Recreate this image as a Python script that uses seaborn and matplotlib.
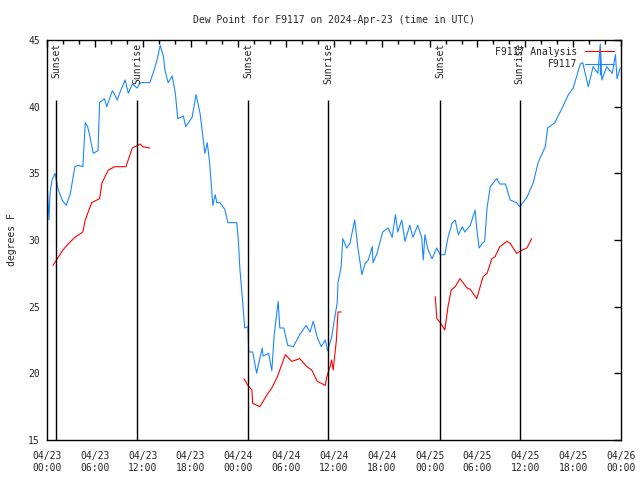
import numpy as np
import pandas as pd
import seaborn as sns
import matplotlib
matplotlib.use("Agg")
import matplotlib.pyplot as plt
from matplotlib.lines import Line2D
from matplotlib.ticker import MultipleLocator, FixedLocator

# ==========================================
# Data (hours since 2024-04-23 00:00 UTC)
# ==========================================
obs_hours = [0.0, 0.25, 0.38, 0.63, 1.0, 1.4, 1.9, 2.4, 2.9, 3.5, 3.9, 4.5, 4.8, 5.1, 5.4, 5.8,
             6.4, 6.6, 7.2, 7.5, 8.2, 8.5, 8.8, 9.3, 9.8, 10.2, 10.7, 11.3, 11.7, 12.9, 13.3,
             13.8, 14.2, 14.6, 14.8, 15.2, 15.7, 16.1, 16.4, 17.1, 17.4, 18.2, 18.7, 19.2,
             19.8, 20.1, 20.4, 20.8, 21.1, 21.3, 21.7, 22.3, 22.7, 23.8, 24.0, 24.2, 24.5,
             24.8, 25.2, 25.3, 25.8, 26.3, 26.5, 27.0, 27.1, 27.8, 28.2, 28.5, 29.0, 29.2,
             29.7, 30.2, 30.9, 31.7, 32.5, 33.0, 33.4, 33.9, 34.4, 34.9, 35.2, 35.7, 36.4,
             36.5, 36.9, 37.1, 37.6, 38.0, 38.6, 39.0, 39.5, 39.9, 40.3, 40.8, 40.9, 41.4,
             41.8, 42.1, 42.8, 43.3, 43.7, 44.0, 44.5, 44.9, 45.5, 45.9, 46.5, 47.0, 47.2,
             47.4, 47.8, 48.3, 48.9, 49.3, 49.9, 50.3, 50.8, 51.2, 51.6, 52.1, 52.4, 53.1,
             53.4, 53.7, 53.9, 54.2, 54.6, 54.9, 55.2, 55.6, 56.4, 56.8, 57.5, 58.1, 58.9,
             59.3, 60.2, 61.0, 61.6, 62.5, 62.8, 63.7, 64.7, 65.4, 66.0, 66.9, 67.2, 67.9,
             68.5, 69.1, 69.4, 69.6, 70.2, 70.9, 71.3, 71.5, 71.9]
obs_dewpt = [34.4, 31.5, 33.5, 34.5, 35.0, 33.8, 33.0, 32.6, 33.4, 35.5, 35.6, 35.5, 38.8, 38.5,
             37.7, 36.5, 36.7, 40.3, 40.6, 40.0, 41.2, 40.9, 40.5, 41.3, 42.0, 41.0, 41.7,
             41.4, 41.8, 41.8, 42.5, 43.5, 44.6, 43.8, 42.7, 41.8, 42.3, 41.0, 39.1, 39.3,
             38.5, 39.2, 40.9, 39.5, 36.5, 37.3, 35.8, 32.6, 33.4, 32.8, 32.8, 32.3, 31.3,
             31.3, 30.0, 27.8, 25.7, 23.4, 23.5, 21.6, 21.6, 20.0, 20.6, 21.9, 21.3, 21.5,
             20.2, 22.9, 25.4, 23.4, 23.4, 22.1, 22.0, 22.9, 23.6, 23.1, 23.9, 22.7, 22.0,
             22.5, 21.7, 22.7, 25.3, 26.8, 28.0, 30.1, 29.4, 29.75, 31.5, 29.4, 27.4, 28.25,
             28.5, 29.5, 28.3, 29.0, 29.9, 30.6, 30.9, 30.2, 31.9, 30.6, 31.5, 29.9, 31.1,
             30.2, 31.1, 30.2, 28.5, 30.4, 29.25, 28.6, 29.4, 28.9, 28.9, 30.2, 31.25, 31.5,
             30.4, 31.0, 30.6, 31.1, 31.7, 32.25, 30.9, 29.4, 29.75, 29.9, 32.4, 34.0, 34.6,
             34.2, 34.2, 33.0, 32.8, 32.5, 33.2, 34.3, 35.8, 37.0, 38.4, 38.8, 40.0, 40.9,
             41.4, 43.2, 43.3, 41.5, 43.0, 42.5, 44.7, 42.0, 43.0, 42.5, 43.9, 42.1, 42.9]

ana_hours = [0.75, 2.0, 2.5, 3.5, 4.5, 4.8, 5.6, 6.6, 6.9, 7.7, 8.5, 9.9, 10.7, 11.7, 12.0, 12.9,
             24.7, 25.2, 25.7, 25.8, 26.7, 27.6, 28.2, 28.9, 29.2, 29.9, 30.7, 31.7, 32.6,
             33.2, 33.9, 34.9, 35.1, 35.5, 35.7, 35.9, 36.3, 36.5, 36.9,
             48.7, 48.9, 49.4, 49.9, 50.3, 50.7, 51.2, 51.8, 52.7, 53.1, 53.9, 54.7, 55.2,
             55.8, 56.2, 56.8, 57.7, 58.1, 58.9, 59.6, 60.2, 60.8]
ana_dewpt = [28.1, 29.25, 29.6, 30.2, 30.6, 31.5, 32.8, 33.1, 34.3, 35.25, 35.5, 35.5, 36.9,
             37.2, 37.0, 36.9,
             19.6, 19.1, 18.75, 17.75, 17.5, 18.4, 18.9, 19.75, 20.25, 21.4, 20.9, 21.1,
             20.5, 20.25, 19.4, 19.1, 19.75, 20.5, 21.0, 20.25, 22.5, 24.6, 24.6,
             25.75, 24.1, 23.75, 23.25, 25.0, 26.25, 26.5, 27.1, 26.4, 26.3, 25.6, 27.25,
             27.5, 28.6, 28.75, 29.5, 29.9, 29.75, 29.0, 29.25, 29.4, 30.1]
ana_segment = [1] * 16 + [2] * 23 + [3] * 22

sun_hours = [1.13, 11.3, 25.2, 35.3, 49.3, 59.3]
sun_labels = ["Sunset", "Sunrise", "Sunset", "Sunrise", "Sunset", "Sunrise"]

tick_hours = [0, 6, 12, 18, 24, 30, 36, 42, 48, 54, 60, 66, 72]
tick_labels = ["04/23\n00:00", "04/23\n06:00", "04/23\n12:00", "04/23\n18:00",
               "04/24\n00:00", "04/24\n06:00", "04/24\n12:00", "04/24\n18:00",
               "04/25\n00:00", "04/25\n06:00", "04/25\n12:00", "04/25\n18:00",
               "04/26\n00:00"]

obs_df = pd.DataFrame({"hour": obs_hours, "dewpt": obs_dewpt})
ana_df = pd.DataFrame({"hour": ana_hours, "dewpt": ana_dewpt, "seg": ana_segment})

# ==========================================
# Plot
# ==========================================
sns.set_style("white")
plt.rcParams["font.family"] = ["DejaVu Sans Mono"]
plt.rcParams["font.size"] = 7

blue = "#1a88ff"
red = "#ff0000"

fig = plt.figure(figsize=(6.4, 4.8), dpi=100)
ax = fig.add_axes([47 / 640, 40 / 480, 574 / 640, 400 / 480])

sns.lineplot(data=ana_df, x="hour", y="dewpt", units="seg", estimator=None,
             color=red, lw=0.8, ax=ax)
sns.lineplot(data=obs_df, x="hour", y="dewpt", color=blue, lw=0.8, ax=ax)

# sunrise / sunset markers
ax.vlines(sun_hours, 15, 40.5, color="black", lw=1)
for h, lab in zip(sun_hours, sun_labels):
    ax.text(h, 44.8, lab, rotation=90, ha="center", va="top", fontsize=7)

ax.set_xlim(0, 72)
ax.set_ylim(15, 45)
ax.xaxis.set_major_locator(FixedLocator(tick_hours))
ax.set_xticklabels(tick_labels)
ax.xaxis.set_minor_locator(MultipleLocator(2))
ax.yaxis.set_major_locator(MultipleLocator(5))
ax.tick_params(which="both", direction="in", top=True, right=True, width=1, color="black")
ax.tick_params(which="major", length=5)
ax.tick_params(which="minor", length=3)
ax.tick_params(axis="y", which="major", pad=5)
ax.tick_params(axis="x", which="major", pad=8)
for s in ax.spines.values():
    s.set_color("black")
    s.set_linewidth(1)

ax.set_xlabel("")
ax.set_ylabel("degrees F", fontsize=7)
ax.yaxis.set_label_coords(-30 / 574, 0.5)
ax.set_title("Dew Point for F9117 on 2024-Apr-23 (time in UTC)", fontsize=7, pad=12.5)

handles = [Line2D([], [], color=red, lw=0.8),
           Line2D([], [], color=blue, lw=0.8, marker="|", markersize=16, markeredgewidth=1)]
ax.legend(handles, ["F9117 Analysis", "F9117"], loc="upper right", frameon=False,
          markerfirst=False, numpoints=1, handlelength=3.0, handletextpad=0.8,
          labelspacing=0.25, borderaxespad=0.3, fontsize=7)

plt.savefig("out.png", dpi=100)
